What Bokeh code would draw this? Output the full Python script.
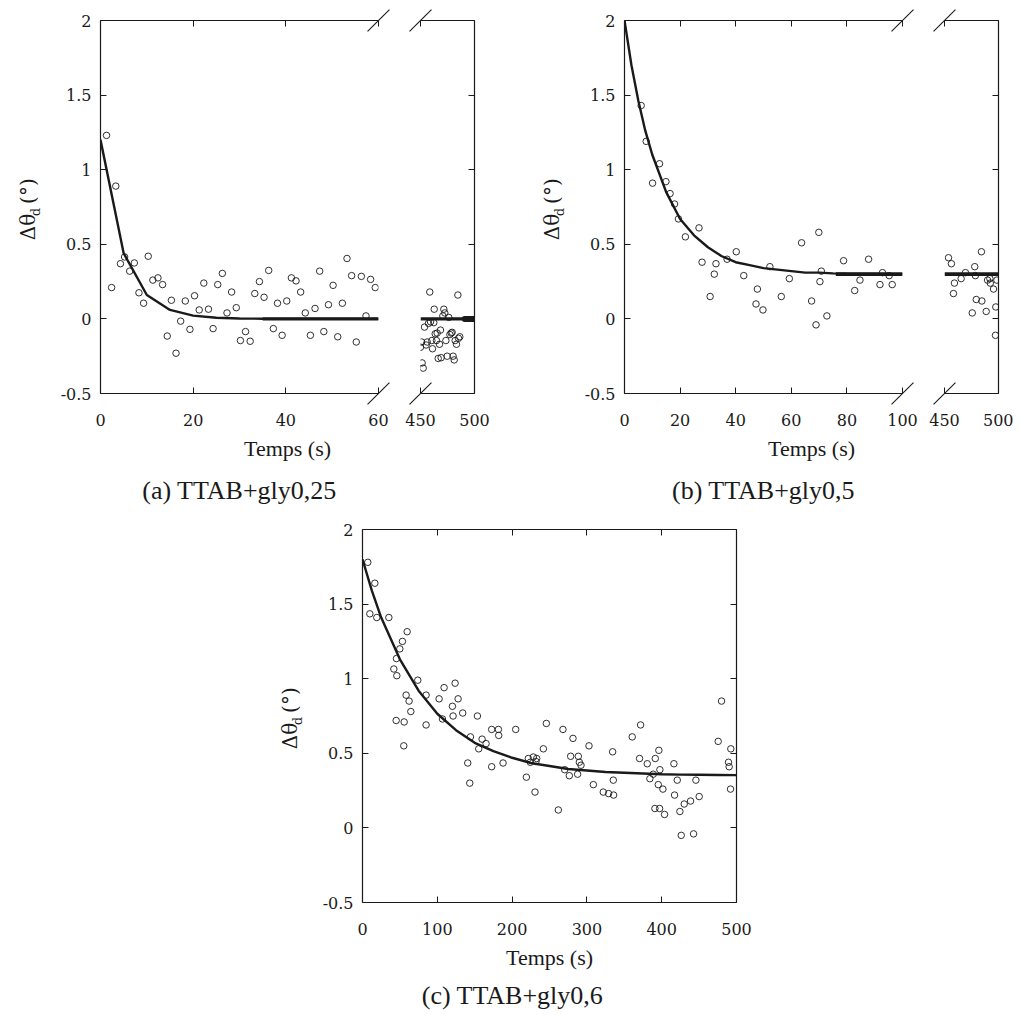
import math
from bokeh.plotting import figure
from bokeh.models import Range1d, LinearAxis, FixedTicker, CustomJSTickFormatter
from bokeh.core.properties import value
from bokeh.layouts import row, column
from bokeh.embed import file_html
from bokeh.resources import INLINE

# ---------------- data ----------------
# panel (a) TTAB+gly0,25
a_left_t = [1.3, 2.4, 3.3, 4.3, 5.2, 6.3, 7.3, 8.3, 9.3, 10.3, 11.3, 12.4, 13.4, 14.4, 15.3,
            16.3, 17.3, 18.3, 19.3, 20.3, 21.3, 22.3, 23.3, 24.3, 25.3, 26.3, 27.3, 28.3, 29.3, 30.2,
            31.3, 32.3, 33.3, 34.3, 35.3, 36.3, 37.3, 38.2, 39.2, 40.2, 41.2, 42.2, 43.2, 44.2, 45.3,
            46.3, 47.3, 48.2, 49.2, 50.2, 51.2, 52.2, 53.2, 54.2, 55.2, 56.3, 57.3, 58.3, 59.3]
a_left_v = [1.23, 0.21, 0.89, 0.37, 0.415, 0.32, 0.375, 0.175, 0.105, 0.42, 0.26, 0.275, 0.23, -0.115, 0.125,
            -0.23, -0.015, 0.12, -0.07, 0.155, 0.06, 0.24, 0.065, -0.065, 0.23, 0.305, 0.04, 0.18, 0.075, -0.145,
            -0.085, -0.15, 0.17, 0.25, 0.145, 0.325, -0.065, 0.105, -0.11, 0.12, 0.275, 0.255, 0.18, 0.04, -0.11,
            0.07, 0.32, -0.085, 0.095, 0.225, -0.12, 0.105, 0.405, 0.29, -0.155, 0.285, 0.02, 0.265, 0.21]
a_right_t = [450.0, 451.0, 451.5, 452.5, 453.7, 455.2, 456.2, 457.4, 458.6, 459.3, 460.5, 461.1, 462.3, 462.7,
             463.6, 464.8, 465.4, 466.4, 467.6, 468.5, 469.1, 470.7, 471.6, 472.5, 473.5, 474.7, 476.2, 477.2,
             478.4, 479.3, 480.2, 481.2, 482.1, 483.3, 484.6, 485.2, 486.4]
a_right_v = [-0.19, -0.155, -0.295, -0.33, -0.055, -0.175, -0.155, -0.03, 0.18, -0.02, -0.145, -0.2, -0.025, 0.065,
             -0.1, -0.145, -0.095, -0.265, -0.17, -0.075, -0.26, 0.02, 0.065, 0.04, -0.145, -0.25, 0.01, -0.105,
             -0.095, -0.09, -0.25, -0.275, -0.145, -0.17, 0.16, -0.13, -0.12]
a_fit_t = [0, 5, 10, 15, 20, 25, 30, 35, 40, 45, 50, 55, 60]
a_fit_v = [1.2, 0.44, 0.16, 0.06, 0.022, 0.008, 0.003, 0.001, 0.0, 0.0, 0.0, 0.0, 0.0]
a_plateau_left_t = [35, 60]
a_plateau_right_t = [450, 500]
a_plateau_v = [0.0, 0.0]
a_tail_t = [491, 500]
a_tail_v = [0.0, 0.0]

# panel (b) TTAB+gly0,5
b_left_t = [6.0, 7.8, 10.1, 12.6, 14.9, 16.4, 18.0, 19.4, 21.9, 26.8, 27.9, 30.8, 32.3, 32.9, 36.9,
            40.2, 42.9, 47.3, 47.8, 49.8, 52.3, 56.4, 59.3, 63.7, 67.3, 68.9, 69.9, 70.3, 70.8, 72.8,
            78.8, 82.8, 84.7, 87.8, 91.9, 92.8, 95.2, 96.3]
b_left_v = [1.43, 1.19, 0.91, 1.04, 0.92, 0.84, 0.77, 0.67, 0.55, 0.61, 0.38, 0.15, 0.30, 0.37, 0.40,
            0.45, 0.29, 0.10, 0.20, 0.06, 0.35, 0.15, 0.27, 0.51, 0.12, -0.04, 0.58, 0.25, 0.32, 0.02,
            0.39, 0.19, 0.26, 0.40, 0.23, 0.31, 0.29, 0.23]
b_right_t = [453.7, 456.4, 458.3, 459.2, 465.4, 469.4, 475.7, 478.0, 478.6, 479.4, 484.2, 484.6,
             488.6, 489.9, 492.0, 492.4, 495.4, 497.2, 497.5, 498.5]
b_right_v = [0.41, 0.37, 0.17, 0.24, 0.27, 0.31, 0.04, 0.35, 0.29, 0.13, 0.45, 0.12,
             0.05, 0.26, 0.27, 0.24, 0.20, -0.11, 0.08, 0.26]
b_fit_t = [0, 2.5, 5, 7.5, 10, 15, 20, 25, 30, 35, 40, 45, 50, 55, 60, 65, 70, 75, 80, 85, 90, 95, 100]
b_fit_v = [2.0, 1.70, 1.46, 1.26, 1.10, 0.85, 0.67, 0.56, 0.48, 0.42, 0.38, 0.36, 0.34, 0.33, 0.32,
           0.31, 0.31, 0.305, 0.303, 0.302, 0.301, 0.30, 0.30]
b_plateau_left_t = [76, 100]
b_plateau_right_t = [450, 500]
b_plateau_v = [0.30, 0.30]

# panel (c) TTAB+gly0,6
c_t = [7.1, 9.8, 16.5, 19.1, 35.2, 41.9, 45.0, 45.4, 45.9, 49.9, 53.4, 55.2, 55.7, 58.3, 59.7, 62.3,
       64.6, 73.9, 85.0, 85.0, 102.4, 106.9, 109.1, 120.2, 121.1, 123.8, 127.8, 134.0, 140.7, 143.4,
       144.3, 153.6, 155.4, 159.9, 165.2, 172.7, 172.7, 181.7, 182.1, 187.9, 204.8, 219.1, 221.7,
       224.4, 228.4, 230.6, 231.9, 232.9, 241.8, 245.8, 261.8, 268.0, 270.3, 276.5, 278.3, 281.4,
       287.6, 288.5, 289.9, 292.1, 302.8, 308.6, 321.9, 329.0, 334.4, 335.3, 335.7, 360.6, 370.4,
       371.8, 380.7, 384.2, 388.7, 390.9, 391.4, 395.4, 396.2, 397.2, 397.6, 401.6, 403.8, 416.3,
       417.2, 420.8, 424.3, 426.1, 430.1, 438.6, 442.6, 445.7, 450.1, 475.5, 480.0, 489.3, 490.2,
       492.0, 492.4]
c_v = [1.78, 1.435, 1.64, 1.41, 1.41, 1.065, 0.72, 1.135, 1.02, 1.20, 1.25, 0.55, 0.71, 0.89, 1.315, 0.85,
       0.78, 0.99, 0.89, 0.69, 0.865, 0.73, 0.94, 0.815, 0.75, 0.97, 0.865, 0.77, 0.435, 0.30,
       0.61, 0.75, 0.53, 0.595, 0.565, 0.66, 0.41, 0.66, 0.62, 0.435, 0.66, 0.34, 0.465,
       0.44, 0.475, 0.24, 0.445, 0.465, 0.53, 0.70, 0.12, 0.66, 0.39, 0.35, 0.48, 0.60,
       0.36, 0.48, 0.44, 0.42, 0.55, 0.29, 0.24, 0.23, 0.51, 0.32, 0.22, 0.61, 0.465,
       0.69, 0.43, 0.33, 0.36, 0.13, 0.465, 0.29, 0.52, 0.13, 0.39, 0.26, 0.09, 0.43,
       0.22, 0.32, 0.11, -0.05, 0.16, 0.18, -0.04, 0.32, 0.21, 0.58, 0.85, 0.44, 0.41,
       0.26, 0.53]
c_fit_t = [0, 12.5, 25, 50, 75, 100, 125, 150, 175, 200, 225, 250, 275, 300, 325, 350, 375, 400,
           425, 450, 475, 500]
c_fit_v = [1.80, 1.59, 1.41, 1.13, 0.92, 0.765, 0.655, 0.57, 0.515, 0.47, 0.435, 0.415, 0.395, 0.385,
           0.375, 0.37, 0.365, 0.36, 0.357, 0.356, 0.355, 0.354]

y_ticks = [-0.5, 0, 0.5, 1, 1.5, 2]
y_tick_labels = ["-0.5", "0", "0.5", "1", "1.5", "2"]
a_x_ticks = [0, 20, 40, 60]
b_x_ticks = [0, 20, 40, 60, 80, 100]
right_x_ticks = [450, 500]
c_x_ticks = [0, 100, 200, 300, 400, 500]

captions = ["(a) TTAB+gly0,25", "(b) TTAB+gly0,5", "(c) TTAB+gly0,6"]
x_title = "Temps (s)"

# ---------------- styling ----------------
INK = "#1a1a1a"
TICK_FONT = "DejaVu Serif"
TEXT_FONT = "Liberation Serif"
Y0, Y1 = -0.5, 2.0


def axis(ticks, labels=None, standoff=20):
    ax = LinearAxis(ticker=FixedTicker(ticks=ticks))
    ax.major_tick_in = 6
    ax.major_tick_out = 0
    ax.minor_tick_line_color = None
    ax.axis_line_color = INK
    ax.axis_line_width = 1.2
    ax.major_tick_line_color = INK
    ax.major_tick_line_width = 1.0
    if labels is None:
        ax.formatter = CustomJSTickFormatter(code="return ''")
        ax.major_label_text_font_size = "0px"
        ax.major_label_standoff = 0
    else:
        ax.major_label_overrides = {t: l for t, l in zip(ticks, labels)}
        ax.major_label_text_font = TICK_FONT
        ax.major_label_text_font_size = "16px"
        ax.major_label_text_color = INK
        ax.major_label_standoff = standoff
    return ax


def make_fig(x0, x1, fw, mbl, mbr, mbt, mbb):
    p = figure(x_range=Range1d(x0, x1), y_range=Range1d(Y0, Y1),
               frame_width=fw, frame_height=373,
               min_border_left=mbl, min_border_right=mbr,
               min_border_top=mbt, min_border_bottom=mbb,
               x_axis_location=None, y_axis_location=None,
               toolbar_location=None, output_backend="svg")
    p.outline_line_color = None
    p.xgrid.grid_line_color = None
    p.ygrid.grid_line_color = None
    return p


def points(p, t, v):
    p.scatter(t, v, marker="circle", size=6.5, fill_color=None,
              line_color=INK, line_width=0.9)


def breaks(p, xpos):
    p.scatter([xpos, xpos], [Y0, Y1], marker="dash", size=31, angle=math.pi / 4,
              line_color=INK, line_width=1.1, level="overlay")


def txt(p, x, y, s, dx, dy, size, font, align="center", baseline="middle", angle=0.0):
    # dx: pixels to the right, dy: pixels downwards from the anchor (x, y)
    p.text(x=[x], y=[y], text=[s], x_offset=dx, y_offset=dy, angle=angle,
           text_align=align, text_baseline=baseline,
           text_font=value(font), text_font_size=value(size),
           text_color=INK, level="overlay")


def ylabel(p, x0):
    r = math.pi / 2
    txt(p, x0, 0.5, "Δθ", -73, -4, "20px", TICK_FONT, "left", "alphabetic", r)
    txt(p, x0, 0.5, "d", -65, -28, "13px", TICK_FONT, "left", "alphabetic", r)
    txt(p, x0, 0.5, "(°)", -73, -66, "20px", TICK_FONT, "right", "alphabetic", r)


def titles(p, x0, caption, cap_dx, cap_dy):
    txt(p, x0, Y0, x_title, 187, 55, "22px", TEXT_FONT)
    txt(p, x0, Y0, caption, cap_dx, cap_dy, "26px", TEXT_FONT)


TOP_H = dict(mbt=20, mbb=117)

# ---- panel (a) ----
a1 = make_fig(0, 60, 278, 100, 21, **TOP_H)
a1.add_layout(axis(y_ticks, y_tick_labels, 9), "left")
a1.add_layout(axis(a_x_ticks, [str(t) for t in a_x_ticks]), "below")
a1.add_layout(axis(a_x_ticks), "above")
a1.line(a_fit_t, a_fit_v, line_color=INK, line_width=2.4)
a1.line(a_plateau_left_t, a_plateau_v, line_color=INK, line_width=3.4)
points(a1, a_left_t, a_left_v)
breaks(a1, 60)
ylabel(a1, 0)
titles(a1, 0, captions[0], 139, 97)

a2 = make_fig(450, 500, 54, 21, 26, **TOP_H)
a2.add_layout(axis(y_ticks), "right")
a2.add_layout(axis(right_x_ticks, [str(t) for t in right_x_ticks]), "below")
a2.add_layout(axis(right_x_ticks), "above")
a2.line(a_plateau_right_t, a_plateau_v, line_color=INK, line_width=3.4)
a2.line(a_tail_t, a_tail_v, line_color=INK, line_width=6, line_cap="round")
points(a2, a_right_t, a_right_v)
breaks(a2, 450)

# ---- panel (b) ----
b1 = make_fig(0, 100, 278, 124, 21, **TOP_H)
b1.add_layout(axis(y_ticks, y_tick_labels, 9), "left")
b1.add_layout(axis(b_x_ticks, [str(t) for t in b_x_ticks]), "below")
b1.add_layout(axis(b_x_ticks), "above")
b1.line(b_fit_t, b_fit_v, line_color=INK, line_width=2.4)
b1.line(b_plateau_left_t, b_plateau_v, line_color=INK, line_width=3.6)
points(b1, b_left_t, b_left_v)
breaks(b1, 100)
ylabel(b1, 0)
titles(b1, 0, captions[1], 139, 97)

b2 = make_fig(450, 500, 54, 21, 15, **TOP_H)
b2.add_layout(axis(y_ticks), "right")
b2.add_layout(axis(right_x_ticks, [str(t) for t in right_x_ticks]), "below")
b2.add_layout(axis(right_x_ticks), "above")
b2.line(b_plateau_right_t, b_plateau_v, line_color=INK, line_width=3.6)
points(b2, b_right_t, b_right_v)
breaks(b2, 450)

# ---- panel (c) ----
c = make_fig(0, 500, 374, 362, 20, mbt=19, mbb=112)
c.add_layout(axis(y_ticks, y_tick_labels, 9), "left")
c.add_layout(axis(y_ticks), "right")
c.add_layout(axis(c_x_ticks, [str(t) for t in c_x_ticks]), "below")
c.add_layout(axis(c_x_ticks), "above")
c.line(c_fit_t, c_fit_v, line_color=INK, line_width=2.4)
points(c, c_t, c_v)
ylabel(c, 0)
titles(c, 0, captions[2], 150, 93)

layout = column(row(a1, a2, b1, b2, spacing=0), c, spacing=0)

open("out.html", "w").write(file_html(layout, INLINE, "Delta theta_d vs temps"))
